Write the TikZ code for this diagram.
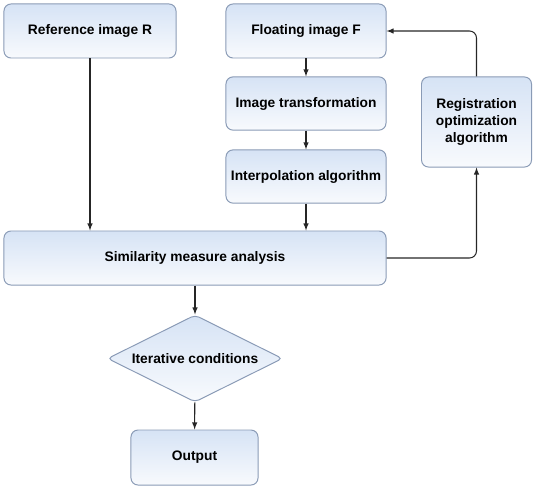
\documentclass[tikz,border=0pt]{standalone}
\usepackage{fontspec}
\setmainfont{Liberation Sans}
\usetikzlibrary{shapes.geometric}

\definecolor{boxtop}{HTML}{D6E3F5}
\definecolor{boxbot}{HTML}{F8FAFD}
\definecolor{boxline}{HTML}{8A9BB6}

\tikzset{
  stepbox/.style={rectangle, rounded corners=5pt, draw=boxline, line width=0.7pt,
    top color=boxtop, bottom color=boxbot, align=center,
    font=\fontsize{9.8}{12}\selectfont\bfseries},
  decision/.style={diamond, draw=boxline, line width=0.7pt, rounded corners=3pt,
    top color=boxtop, bottom color=boxbot, inner sep=0pt, aspect=2,
    font=\fontsize{9.8}{12}\selectfont\bfseries},
  flow/.style={-latex, line width=0.75pt, black!85}
}

\begin{document}
\begin{tikzpicture}[x=0.025cm, y=0.025cm]
\useasboundingbox (0,0) rectangle (536,489);

\node[stepbox, minimum width=4.3cm, minimum height=1.35cm] (refimg) at (90,458) {Reference image R};
\node[stepbox, minimum width=4cm, minimum height=1.35cm] (floatimg) at (306,458) {Floating image F};
\node[stepbox, minimum width=4cm, minimum height=1.33cm] (transf) at (306,385.5) {Image transformation};
\node[stepbox, minimum width=4cm, minimum height=1.33cm] (interp) at (306,312.5) {Interpolation algorithm};
\node[stepbox, minimum width=2.75cm, minimum height=2.25cm] (regopt) at (476.5,367) {Registration\\optimization\\algorithm};
\node[stepbox, minimum width=9.55cm, minimum height=1.35cm] (simil) at (195,231) {Similarity measure analysis};
\node[decision, minimum width=4.375cm, minimum height=2.175cm] (iter) at (195,130.5) {Iterative conditions};
\node[stepbox, minimum width=3.175cm, minimum height=1.375cm] (outp) at (194.5,31.5) {Output};

\draw[flow] (refimg.south) -- (refimg.south |- simil.north);
\draw[flow] (floatimg) -- (transf);
\draw[flow] (transf) -- (interp);
\draw[flow] (interp.south) -- (interp.south |- simil.north);
\draw[flow] (simil) -- (iter);
\draw[flow] (iter) -- (outp);
\draw[flow, rounded corners=5pt] (simil.east) -| (regopt.south);
\draw[flow, rounded corners=5pt] (regopt.north) |- (floatimg.east);
\end{tikzpicture}
\end{document}
